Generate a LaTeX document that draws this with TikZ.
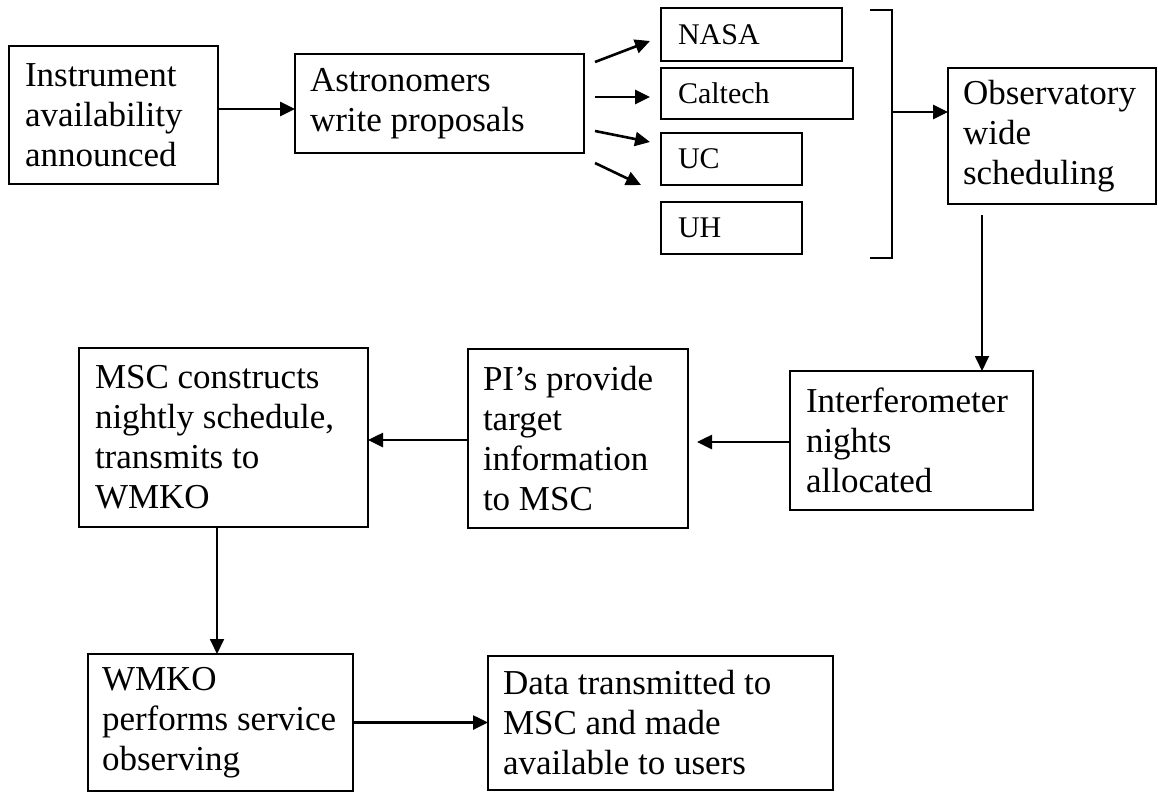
\documentclass[tikz,border=0pt]{standalone}
\usepackage{fontspec}
\setmainfont{Liberation Serif}
\usetikzlibrary{arrows.meta,calc}
\tikzset{
  box/.style={draw, line width=2.2pt, anchor=north west, align=flush left, inner xsep=16pt, inner ysep=0pt, outer sep=0pt, font=\fontsize{35}{40}\selectfont},
  sbox/.style={draw, line width=2.2pt, anchor=north west, align=flush left, inner xsep=17pt, inner ysep=0pt, outer sep=0pt, font=\fontsize{30}{34}\selectfont},
  harr/.style={line width=2.6pt, -{Triangle[length=15pt,width=14pt]}},
  varr/.style={line width=1.8pt, -{Triangle[length=15pt,width=14pt]}},
  brkline/.style={line width=2.2pt}
}
\begin{document}
\begin{tikzpicture}[x=1pt,y=-1pt]
\useasboundingbox (0,0) rectangle (1158,793);
% main boxes
\node[box, text width=177pt, minimum height=138pt] (b1) at (9,46) {Instrument\\availability\\announced};
\node[box, inner xsep=15pt, text width=259pt, minimum height=99pt] (b2) at (295,54) {Astronomers\\write proposals};
\node[sbox, text width=147pt, minimum height=53pt] (nasa) at (661,8) {NASA};
\node[sbox, text width=158pt, minimum height=51pt] (caltech) at (661,68) {Caltech};
\node[sbox, text width=107pt, minimum height=52pt] (uc) at (661,133) {UC};
\node[sbox, text width=107pt, minimum height=52pt] (uh) at (661,202) {UH};
\node[box, inner xsep=15pt, text width=178pt, minimum height=136pt] (obs) at (948,68) {Observatory\\wide\\scheduling};
\node[box, text width=211pt, minimum height=139pt] (intf) at (790,371) {Interferometer\\nights\\allocated};
\node[box, inner xsep=15pt, text width=190pt, minimum height=179pt] (pi) at (468,349) {PI’s provide\\target\\information\\to MSC};
\node[box, text width=257pt, minimum height=179pt] (msc) at (79,348) {MSC constructs\\nightly schedule,\\transmits to\\WMKO};
\node[box, inner xsep=14pt, text width=237pt, minimum height=137pt] (wmko) at (88,654) {WMKO\\performs service\\observing};
\node[box, inner xsep=15pt, text width=315pt, minimum height=134pt] (data) at (488,656) {Data transmitted to\\MSC and made\\available to users};
% connectors top row
\coordinate (c1) at ($(b1.north east)+(0,63)$);
\draw[harr] (c1) -- (c1 -| b2.west);
\coordinate (s1) at (595,62); \coordinate (e1) at (650,41);
\coordinate (s2) at (595,97); \coordinate (e2) at (650,97);
\coordinate (s3) at (595,131); \coordinate (e3) at (650,142);
\coordinate (s4) at (595,163); \coordinate (e4) at (641,185);
\draw[harr] (s1) -- (e1);
\draw[harr] (s2) -- (e2);
\draw[harr] (s3) -- (e3);
\draw[harr] (s4) -- (e4);
% bracket
\coordinate (bt) at (870,10); \coordinate (bb) at (870,258);
\coordinate (brk) at (892,112);
\draw[brkline] (bt) -- (892,10) -- (892,258) -- (bb);
\draw[harr] (brk) -- (brk -| obs.west);
% vertical from observatory
\coordinate (o1) at ($(obs.south west)+(34,11)$);
\draw[varr] (o1) -- (o1 |- intf.north);
% middle row
\coordinate (i1) at ($(intf.west)+(0,1.5)$);
\coordinate (p1) at ($(pi.east)+(9,0)$);
\draw[harr] (i1) -- (i1 -| p1);
\coordinate (p2) at ($(pi.west)+(0,1.5)$);
\draw[harr] (p2) -- (p2 -| msc.east);
% down to wmko
\coordinate (m1) at ($(msc.south west)+(138,0)$);
\draw[varr] (m1) -- (m1 |- wmko.north);
% bottom row
\draw[harr] (wmko.east) -- (wmko.east -| data.west);
\end{tikzpicture}
\end{document}
